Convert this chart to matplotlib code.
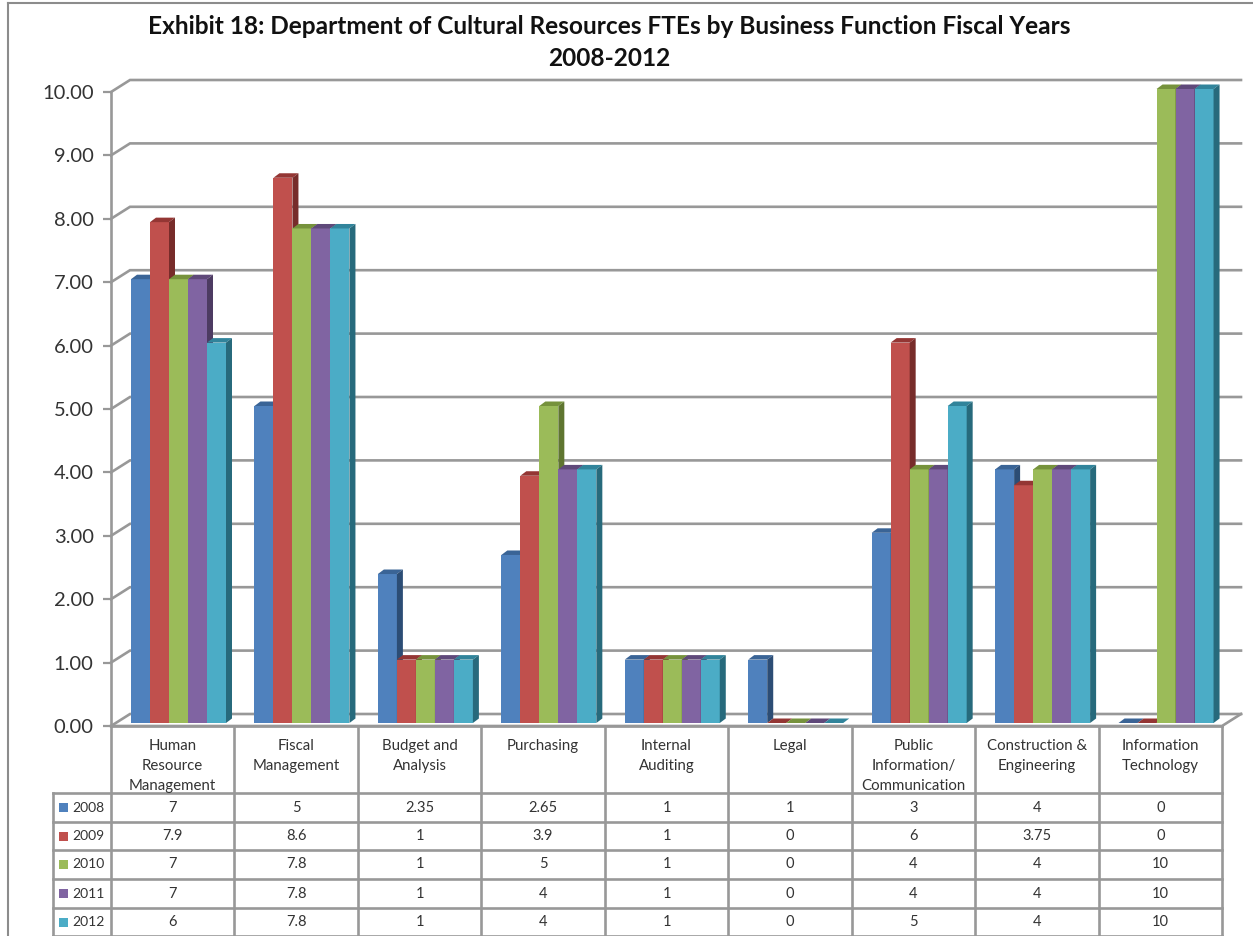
import matplotlib
matplotlib.use('Agg')
import matplotlib.pyplot as plt
from matplotlib.patches import Polygon, Rectangle
from matplotlib.transforms import Affine2D

plt.rcParams['font.family'] = ['Lato', 'DejaVu Sans']

categories = ['Human\nResource\nManagement', 'Fiscal\nManagement', 'Budget and\nAnalysis',
              'Purchasing', 'Internal\nAuditing', 'Legal', 'Public\nInformation/\nCommunication',
              'Construction &\nEngineering', 'Information\nTechnology']
years = ['2008', '2009', '2010', '2011', '2012']
v2008 = [7, 5, 2.35, 2.65, 1, 1, 3, 4, 0]
v2009 = [7.9, 8.6, 1, 3.9, 1, 0, 6, 3.75, 0]
v2010 = [7, 7.8, 1, 5, 1, 0, 4, 4, 10]
v2011 = [7, 7.8, 1, 4, 1, 0, 4, 4, 10]
v2012 = [6, 7.8, 1, 4, 1, 0, 5, 4, 10]
series = [v2008, v2009, v2010, v2011, v2012]

front = ['#4F81BD', '#C0504D', '#9BBB59', '#8064A2', '#4BACC6']
top = ['#3A6496', '#943634', '#76923C', '#5F497A', '#31849B']
side = ['#2C4D75', '#772C2A', '#5F7530', '#4D3B62', '#276A7C']
grey = '#989898'

W, H = 1253, 936
fig = plt.figure(figsize=(W/100, H/100), dpi=100, facecolor='white')

# pixel layer for the frame and the table
pg = fig.add_axes([0, 0, 1, 1], zorder=0)
pg.set_xlim(0, W)
pg.set_ylim(H, 0)
pg.axis('off')

# plot area, front plane of the 3d box
x0, x1, y0, y1 = 111, 1222, 726, 92
ax = fig.add_axes([x0/W, 1-y0/H, (x1-x0)/W, (y0-y1)/H], zorder=1)
ax.patch.set_alpha(0)
ax.set_xlim(0, 9)
ax.set_ylim(0, 10)
ux = (x1-x0)/9.0
uy = (y0-y1)/10.0
for s in ['top', 'right', 'bottom']:
    ax.spines[s].set_visible(False)
ax.spines['left'].set_color(grey)
ax.spines['left'].set_linewidth(1.9)
ax.set_xticks([])
ax.set_yticks(range(11))
ax.set_yticklabels(['%.2f' % i for i in range(11)], fontsize=14.5, color='#333333')
ax.tick_params(axis='y', length=6, width=1.6, color=grey, pad=6.5)

# gridlines on the back wall
gx = 19/ux
gy = 12/uy
for i in range(11):
    ax.plot([0, gx, 9+gx], [i, i+gy, i+gy], color=grey, lw=1.9, clip_on=False, zorder=1,
            solid_joinstyle='miter')
ax.plot([0, 9, 9+gx], [0, 0, gy], color=grey, lw=1.9, clip_on=False, zorder=1)

# bars
lift = Affine2D().translate(0, 3)
bw = 19/ux
start = 20/ux
dx = 6/ux
dy = 4.5/uy
for s, vals in enumerate(series):
    pos = [i+start+s*bw for i in range(9)]
    tr = ax.transData + lift
    ax.bar(pos, vals, width=bw, align='edge', color=front[s], zorder=3+s, transform=tr, clip_on=False)
    for p, v in zip(pos, vals):
        ax.add_patch(Polygon([(p, v), (p+dx, v+dy), (p+bw+dx, v+dy), (p+bw, v)], facecolor=top[s],
                             edgecolor='none', transform=tr, zorder=3+s, clip_on=False))
        ax.add_patch(Polygon([(p+bw, 0), (p+bw+dx, dy), (p+bw+dx, v+dy), (p+bw, v)], facecolor=side[s],
                             edgecolor='none', transform=tr, zorder=3+s, clip_on=False))

# title
pg.text(609.5, 27, 'Exhibit 18: Department of Cultural Resources FTEs by Business Function Fiscal Years',
        ha='center', va='center', fontsize=17.6, fontweight='bold', color='#111111')
pg.text(609.5, 59, '2008-2012', ha='center', va='center', fontsize=17.6, fontweight='bold', color='#111111')

# data table
edges = [x0+ux*i for i in range(10)]
rows = [793, 822, 850, 879, 908, 936]
lw = 1.9
for e in edges:
    pg.plot([e, e], [y0, H], color=grey, lw=lw)
pg.plot([53, 53], [793, H], color=grey, lw=lw)
pg.plot([x0, x1], [y0, y0], color=grey, lw=lw)
for r in rows:
    pg.plot([53, x1], [r, r], color=grey, lw=lw)
for i, c in enumerate(categories):
    for j, line in enumerate(c.split('\n')):
        pg.text(edges[i]+ux/2, 746+j*20, line, ha='center', va='center', fontsize=10.8, color='#333333')
for r, (y, vals) in enumerate(zip(years, series)):
    yc = (rows[r]+rows[r+1])/2.0
    pg.add_patch(Rectangle((59, yc-4.5), 9, 9, facecolor=front[r], edgecolor='none'))
    pg.text(72, yc, y, ha='left', va='center', fontsize=10, color='#333333')
    for i, v in enumerate(vals):
        pg.text(edges[i]+ux/2, yc, '%g' % v, ha='center', va='center', fontsize=10.5, color='#333333')

# chart frame, right side is cut off in the picture
pg.plot([8, 8], [3, H], color='#8c8c8c', lw=1.5)
pg.plot([8, W], [3, 3], color='#8c8c8c', lw=1.5)

fig.savefig('out.png', dpi=100)
